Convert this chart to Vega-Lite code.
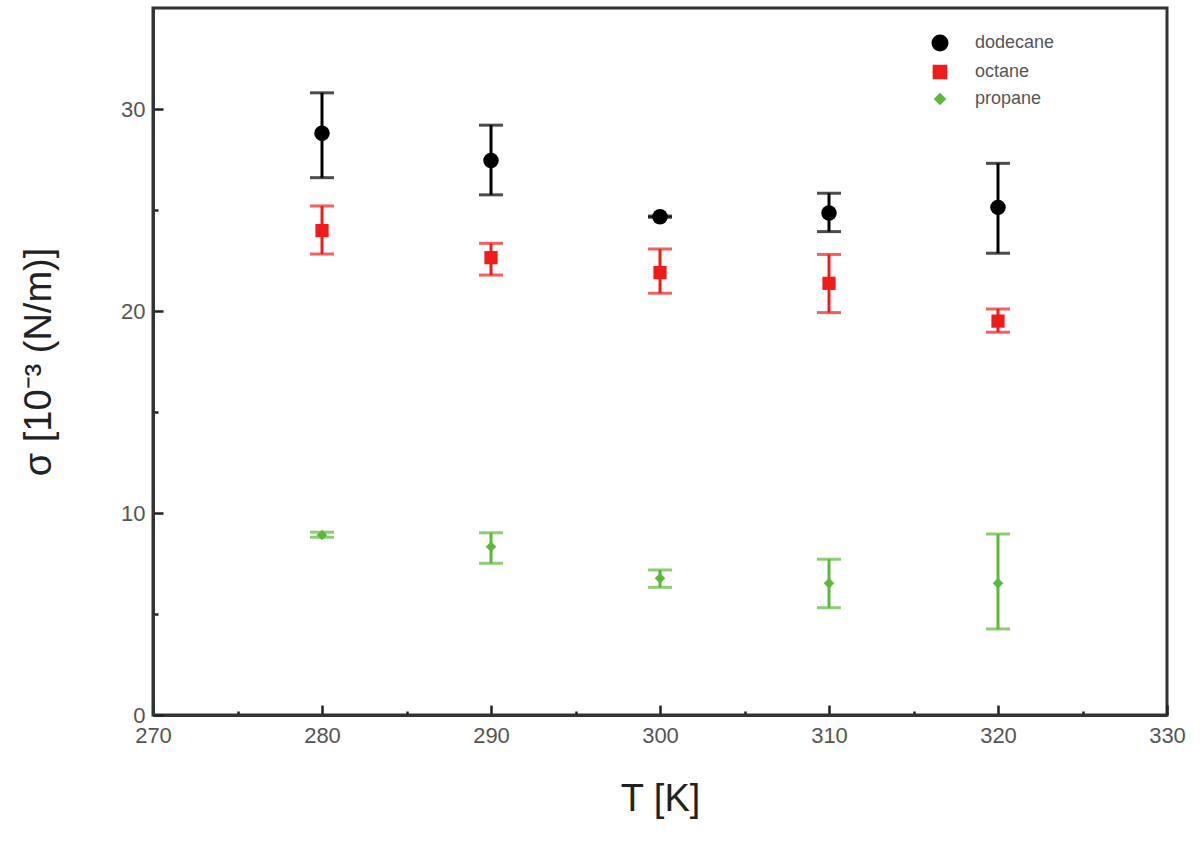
{
  "$schema": "https://vega.github.io/schema/vega-lite/v6.json",
  "width": 1014,
  "height": 707,
  "autosize": "none",
  "padding": {"left": 153, "top": 8, "right": 33, "bottom": 126},
  "background": "white",
  "config": {
    "view": {"stroke": "#333333", "strokeWidth": 3},
    "font": "Liberation Sans",
    "axis": {
      "domainColor": "#333333",
      "domainWidth": 3,
      "tickColor": "#222222",
      "tickWidth": 2.5,
      "grid": false,
      "labelFlush": false,
      "labelColor": "#555555",
      "labelFontSize": 22,
      "titleColor": "#222222",
      "titleFontSize": 38,
      "titleFontWeight": "normal"
    },
    "legend": {"labelFontSize": 18, "labelColor": "#555555", "symbolSize": 160, "symbolOpacity": 1, "labelOffset": 26, "rowPadding": 8}
  },
  "data": {
    "values": [
      {"T": 280, "substance": "dodecane", "sigma": 28.8, "lo": 26.6, "hi": 30.8},
      {"T": 290, "substance": "dodecane", "sigma": 27.45, "lo": 25.75, "hi": 29.2},
      {"T": 300, "substance": "dodecane", "sigma": 24.67, "lo": 24.64, "hi": 24.7},
      {"T": 310, "substance": "dodecane", "sigma": 24.85, "lo": 23.93, "hi": 25.83},
      {"T": 320, "substance": "dodecane", "sigma": 25.13, "lo": 22.86, "hi": 27.31},
      {"T": 280, "substance": "octane", "sigma": 23.98, "lo": 22.82, "hi": 25.2},
      {"T": 290, "substance": "octane", "sigma": 22.64, "lo": 21.78, "hi": 23.35},
      {"T": 300, "substance": "octane", "sigma": 21.9, "lo": 20.88, "hi": 23.07},
      {"T": 310, "substance": "octane", "sigma": 21.37, "lo": 19.92, "hi": 22.8},
      {"T": 320, "substance": "octane", "sigma": 19.5, "lo": 18.95, "hi": 20.1},
      {"T": 280, "substance": "propane", "sigma": 8.91, "lo": 8.8, "hi": 9.05},
      {"T": 290, "substance": "propane", "sigma": 8.33, "lo": 7.51, "hi": 9.02},
      {"T": 300, "substance": "propane", "sigma": 6.77, "lo": 6.32, "hi": 7.18},
      {"T": 310, "substance": "propane", "sigma": 6.52, "lo": 5.31, "hi": 7.71},
      {"T": 320, "substance": "propane", "sigma": 6.52, "lo": 4.26, "hi": 8.96}
    ]
  },
  "encoding": {
    "x": {
      "field": "T", "type": "quantitative",
      "scale": {"domain": [270, 330], "nice": false, "zero": false},
      "axis": {
        "title": "T [K]",
        "values": [270, 275, 280, 285, 290, 295, 300, 305, 310, 315, 320, 325, 330],
        "labelExpr": "datum.value % 10 === 0 ? datum.label : ''",
        "tickSize": {"condition": {"test": "datum.value % 10 === 0", "value": -10}, "value": -4},
        "labelPadding": 20,
        "titlePadding": 34
      }
    },
    "color": {
      "field": "substance", "type": "nominal",
      "scale": {"domain": ["dodecane", "octane", "propane"], "range": ["#000000", "#f01c1c", "#5cb83a"]},
      "legend": {"title": null, "orient": "none", "legendX": 778, "legendY": 26}
    }
  },
  "layer": [
    {
      "mark": {"type": "rule", "strokeWidth": 3},
      "encoding": {
        "y": {"field": "lo", "type": "quantitative"},
        "y2": {"field": "hi"}
      }
    },
    {
      "mark": {"type": "tick", "orient": "horizontal", "size": 24, "thickness": 3},
      "encoding": {"y": {"field": "lo", "type": "quantitative"}}
    },
    {
      "mark": {"type": "tick", "orient": "horizontal", "size": 24, "thickness": 3},
      "encoding": {"y": {"field": "hi", "type": "quantitative"}}
    },
    {
      "mark": {"type": "point", "filled": true, "opacity": 1},
      "encoding": {
        "y": {
          "field": "sigma", "type": "quantitative",
          "scale": {"domain": [0, 35], "nice": false},
          "axis": {
            "title": "σ [10⁻³ (N/m)]",
            "values": [0, 5, 10, 15, 20, 25, 30],
            "labelExpr": "datum.value % 10 === 0 ? datum.label : ''",
            "tickSize": {"condition": {"test": "datum.value % 10 === 0", "value": -10}, "value": -5},
            "labelPadding": 18,
            "titlePadding": 62
          }
        },
        "shape": {
          "field": "substance", "type": "nominal",
          "scale": {"domain": ["dodecane", "octane", "propane"], "range": ["circle", "square", "diamond"]},
          "legend": {"title": null, "orient": "none", "legendX": 778, "legendY": 26}
        },
        "size": {
          "field": "substance", "type": "nominal",
          "scale": {"domain": ["dodecane", "octane", "propane"], "range": [240, 110, 150]},
          "legend": null
        }
      }
    }
  ]
}
